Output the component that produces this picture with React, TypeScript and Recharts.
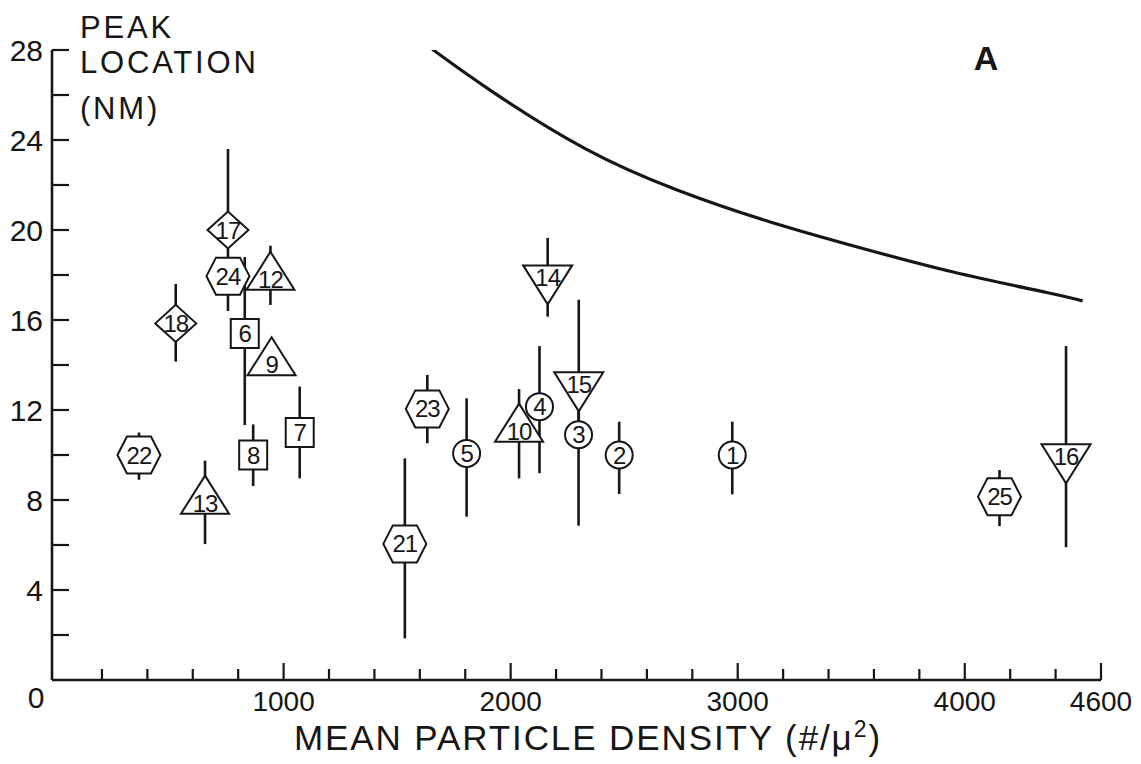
import { ScatterChart, Scatter, XAxis, YAxis, ErrorBar } from "recharts"

const INK = "#161616"
const FONT = "'Liberation Sans', Arial, sans-serif"

// sample number, marker type and the values
const ids = [1, 2, 3, 4, 5, 6, 7, 8, 9, 10, 12, 13, 14, 15, 16, 17, 18, 21, 22, 23, 24, 25]
const shapes = [
  "circle", "circle", "circle", "circle", "circle",
  "square", "square", "square",
  "up", "up", "up", "up",
  "down", "down", "down",
  "diamond", "diamond",
  "hex", "hex", "hex", "hex", "hex",
]
const density = [2976, 2478, 2299, 2127, 1806, 829, 1071, 866, 947, 2037, 942, 654, 2163, 2300, 4446, 755, 525, 1534, 363, 1633, 755, 4153]
const peak = [10.0, 10.0, 10.9, 12.15, 10.07, 15.4, 11.0, 10.0, 14.1, 11.15, 17.9, 7.95, 17.85, 13.1, 9.9, 20.0, 15.85, 6.05, 10.0, 12.05, 17.95, 8.15]
const errLow = [8.25, 8.27, 6.86, 9.19, 7.26, 11.33, 8.96, 8.62, 14.1, 8.96, 16.67, 6.04, 16.15, 11.0, 5.9, 19.2, 14.15, 1.85, 8.9, 10.52, 16.4, 6.84]
const errHigh = [11.48, 11.48, 12.0, 14.84, 12.52, 18.8, 13.04, 11.36, 14.1, 12.93, 19.3, 9.75, 19.65, 16.9, 14.84, 23.6, 17.6, 9.85, 11.0, 13.56, 19.2, 9.33]

// the solid curve
const curveDensity = [1655, 1919, 2326, 2733, 3140, 3547, 3954, 4361, 4519]
const curvePeak = [28.03, 26.15, 23.63, 21.78, 20.37, 19.19, 18.12, 17.22, 16.85]

const xTicks = [0, 200, 400, 600, 800, 1000, 1200, 1400, 1600, 1800, 2000, 2200, 2400, 2600, 2800, 3000, 3200, 3400, 3600, 3800, 4000, 4200, 4400, 4600]
const xLabels = [1000, 2000, 3000, 4000, 4600]
const yTicks = [0, 2, 4, 6, 8, 10, 12, 14, 16, 18, 20, 22, 24, 26, 28]
const yLabels = [4, 8, 12, 16, 20, 24, 28]

const points = ids.map((id, i) => ({
  id,
  shape: shapes[i],
  x: density[i],
  y: peak[i],
  err: [peak[i] - errLow[i], errHigh[i] - peak[i]],
}))
const curve = curveDensity.map((x, i) => ({ x, y: curvePeak[i] }))

function XTick({ x, y, payload }: any) {
  const v = payload.value
  if (v === 0) return null
  const major = xLabels.includes(v)
  return (
    <g>
      <line x1={x} y1={y} x2={x} y2={y - (major ? 17 : 11)} stroke={INK} strokeWidth={2.2} />
      {major && (
        <text x={x} y={y + 31} textAnchor="middle" fontSize={28} fill={INK} fontFamily={FONT}>
          {v}
        </text>
      )}
    </g>
  )
}

function YTick({ x, y, payload }: any) {
  const v = payload.value
  if (v === 0) {
    return (
      <text x={x - 16} y={y + 28} textAnchor="middle" fontSize={30} fill={INK} fontFamily={FONT}>
        0
      </text>
    )
  }
  return (
    <g>
      <line x1={x} y1={y} x2={x + 17} y2={y} stroke={INK} strokeWidth={2.2} />
      {yLabels.includes(v) && (
        <text x={x - 9} y={y + 11} textAnchor="end" fontSize={30} fill={INK} fontFamily={FONT}>
          {v}
        </text>
      )}
    </g>
  )
}

function Marker(props: any) {
  const { cx, cy, payload } = props
  const s = payload.shape
  const st = { fill: "#fff", stroke: INK, strokeWidth: 2 }
  let outline
  let ly = cy
  if (s === "circle") {
    outline = <circle cx={cx} cy={cy} r={13.5} {...st} />
  } else if (s === "square") {
    outline = <rect x={cx - 14} y={cy - 14.5} width={28} height={29} {...st} />
  } else if (s === "up") {
    outline = <polygon points={`${cx},${cy - 25.5} ${cx + 24},${cy + 12.5} ${cx - 24},${cy + 12.5}`} {...st} />
    ly = cy + 2
  } else if (s === "down") {
    outline = <polygon points={`${cx - 24.5},${cy - 13} ${cx + 24.5},${cy - 13} ${cx},${cy + 26}`} {...st} />
    ly = cy - 1
  } else if (s === "diamond") {
    outline = <polygon points={`${cx - 20.5},${cy} ${cx},${cy - 18.5} ${cx + 20.5},${cy} ${cx},${cy + 18.5}`} {...st} />
  } else {
    outline = (
      <polygon
        points={`${cx - 21.5},${cy} ${cx - 12},${cy - 18.5} ${cx + 12},${cy - 18.5} ${cx + 21.5},${cy} ${cx + 12},${cy + 18.5} ${cx - 12},${cy + 18.5}`}
        {...st}
      />
    )
  }
  return (
    <g>
      {outline}
      <text x={cx} y={ly + 8.5} textAnchor="middle" fontSize={24} fill={INK} fontFamily={FONT} letterSpacing={-1}>
        {payload.id}
      </text>
    </g>
  )
}

export default function App() {
  return (
    <div style={{ position: "absolute", left: 0, top: 0, width: 1141, height: 764, background: "#fff" }}>
      <ScatterChart width={1141} height={764} margin={{ top: 50, right: 40, bottom: 83, left: 51 }}>
        <XAxis
          type="number"
          dataKey="x"
          domain={[-20, 4600]}
          ticks={xTicks}
          interval={0}
          allowDataOverflow
          height={1}
          tickSize={0}
          tickMargin={0}
          tickLine={false}
          tick={<XTick />}
          axisLine={{ stroke: INK, strokeWidth: 2.6 }}
        />
        <YAxis
          type="number"
          dataKey="y"
          domain={[0, 28]}
          ticks={yTicks}
          interval={0}
          allowDataOverflow
          width={1}
          tickSize={0}
          tickMargin={0}
          tickLine={false}
          tick={<YTick />}
          axisLine={{ stroke: INK, strokeWidth: 2.6 }}
        />
        <Scatter
          data={curve}
          line={{ stroke: INK, strokeWidth: 3.2 }}
          lineJointType="natural"
          shape={() => <g />}
          isAnimationActive={false}
        />
        <Scatter data={points} shape={() => <g />} isAnimationActive={false}>
          <ErrorBar dataKey="err" direction="y" width={0} stroke={INK} strokeWidth={2.6} />
        </Scatter>
        <Scatter data={points} shape={<Marker />} isAnimationActive={false} />
      </ScatterChart>
      <svg
        width={1141}
        height={764}
        style={{ position: "absolute", left: 0, top: 0, pointerEvents: "none" }}
        fontFamily={FONT}
        fill={INK}
      >
        <text x={80} y={38} fontSize={31} letterSpacing={2.8}>PEAK</text>
        <text x={80} y={73} fontSize={31} letterSpacing={2.8}>LOCATION</text>
        <text x={80} y={119} fontSize={31} letterSpacing={2.8}>(NM)</text>
        <text x={986} y={70} fontSize={34} fontWeight={600} textAnchor="middle">A</text>
        <text x={294} y={750} fontSize={35} letterSpacing={1.9}>
          MEAN PARTICLE DENSITY (#/μ<tspan dy={-13} fontSize={23}>2</tspan>
          <tspan dy={13}>)</tspan>
        </text>
      </svg>
    </div>
  )
}
